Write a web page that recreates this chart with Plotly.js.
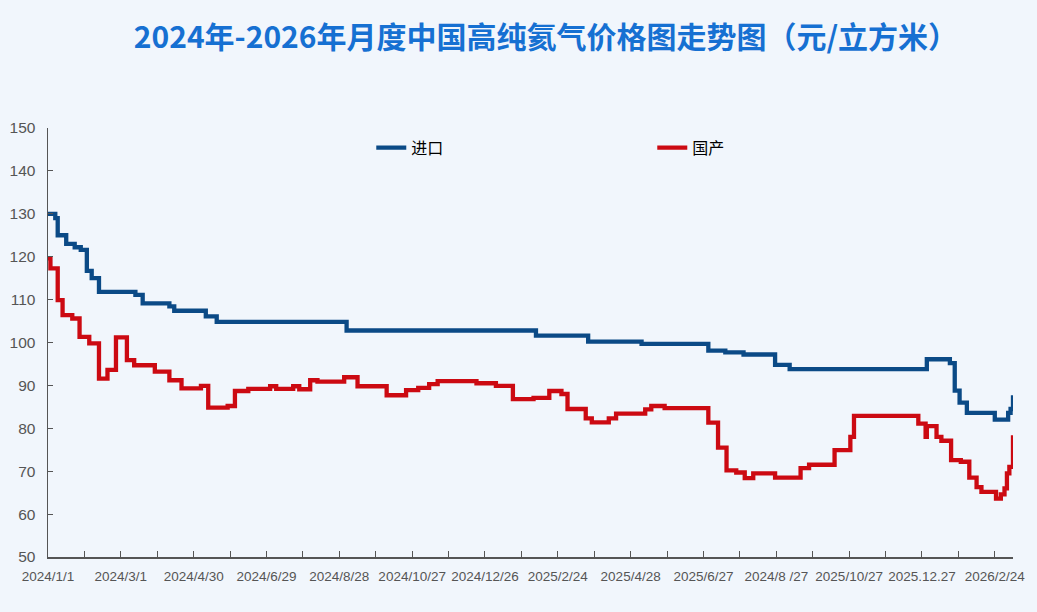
<!DOCTYPE html>
<html>
<head>
<meta charset="utf-8">
<script src="https://cdn.plot.ly/plotly-3.0.1.min.js"></script>
<style>
  html, body { margin: 0; padding: 0; background: #f1f6fc; }
  #chart { width: 1037px; height: 612px; }
</style>
</head>
<body>
<div id="chart"></div>
<script>
// Day index from 2024/1/1 at which each price level starts (step series)
const importDays = [0, 6, 8, 15, 22, 27, 32, 36, 42, 72, 78, 100, 104, 130, 139, 246, 402, 445, 489, 544, 558, 573, 599, 611, 724, 743, 747, 751, 757, 780, 791, 793, 795];
const importValues = [130, 129, 125, 123, 122.2, 121.6, 116.7, 115, 111.8, 111.1, 109.1, 108.4, 107.4, 106.1, 104.8, 102.8, 101.6, 100.2, 99.7, 98.1, 97.7, 97.2, 94.8, 93.8, 96.1, 95.2, 88.8, 86, 83.6, 82, 83.6, 84.5, 87.7];

const domesticDays = [0, 2, 8, 12, 20, 26, 34, 42, 49, 56, 65, 71, 88, 100, 110, 126, 132, 148, 154, 165, 183, 188, 202, 207, 216, 222, 244, 255, 279, 295, 305, 314, 321, 353, 369, 383, 400, 413, 423, 428, 443, 448, 462, 468, 492, 497, 508, 544, 552, 559, 567, 574, 581, 599, 620, 627, 648, 661, 664, 717, 723, 724, 732, 736, 744, 752, 759, 765, 769, 781, 785, 788, 790, 792, 795];
const domesticValues = [119.6, 117.3, 109.9, 106.4, 105.6, 101.3, 99.8, 91.6, 93.6, 101.2, 95.9, 94.7, 93.2, 91.2, 89.3, 89.9, 84.8, 85.2, 88.7, 89.2, 89.8, 89.2, 89.8, 89.1, 91.2, 90.9, 91.9, 89.8, 87.7, 88.9, 89.4, 90.3, 91.0, 90.5, 89.9, 86.8, 87.1, 88.7, 88.0, 84.5, 82.3, 81.4, 82.3, 83.4, 84.4, 85.2, 84.7, 81.3, 75.5, 70.2, 69.7, 68.4, 69.5, 68.5, 70.7, 71.5, 74.9, 78, 82.9, 81.1, 78, 80.5, 78, 77.1, 72.6, 72.2, 68.5, 66.3, 65.2, 63.6, 64.6, 66, 69.5, 71, 78.4];

const tickDays = [0, 30, 60, 90, 120, 150, 180, 210, 240, 270, 300, 330, 360, 390, 420, 450, 480, 510, 540, 570, 600, 630, 660, 690, 720, 750, 780];
const tickLabels = ["2024/1/1", "", "2024/3/1", "", "2024/4/30", "", "2024/6/29", "", "2024/8/28", "", "2024/10/27", "", "2024/12/26", "", "2025/2/24", "", "2025/4/28", "", "2025/6/27", "", "2024/8 /27", "", "2025/10/27", "", "2025.12.27", "", "2026/2/24"];

const seriesNames = ["进口", "国产"];
const seriesColors = ["#0b4a86", "#cc0a12"];

const xFont = { family: "'Liberation Sans', Arial, sans-serif", size: 13.5, color: "#555555" };
const yFont = { family: "'Liberation Sans', Arial, sans-serif", size: 15.5, color: "#555555" };

const traces = [
  { x: importDays, y: importValues, name: seriesNames[0], type: "scatter", mode: "lines",
    line: { color: seriesColors[0], width: 4.3, shape: "hv" } },
  { x: domesticDays, y: domesticValues, name: seriesNames[1], type: "scatter", mode: "lines",
    line: { color: seriesColors[1], width: 4.3, shape: "hv" } }
];

const layout = {
  width: 1037, height: 612,
  paper_bgcolor: "#f1f6fc", plot_bgcolor: "#f1f6fc",
  margin: { l: 48, r: 24, t: 128, b: 55 },
  title: {
    text: "<b>2024年-2026年月度中国高纯氦气价格图走势图（元/立方米）</b>",
    font: { family: "'Noto Sans CJK SC', sans-serif", size: 30, color: "#1670d2" },
    x: 0.516, xref: "paper", xanchor: "center",
    y: 0.938, yref: "container", yanchor: "middle"
  },
  showlegend: true,
  legend: {
    orientation: "h", x: 0.335, xanchor: "left", y: 0.954, yanchor: "middle",
    entrywidth: 236, entrywidthmode: "pixels",
    bgcolor: "rgba(0,0,0,0)",
    font: { family: "'Noto Sans CJK SC', sans-serif", size: 16, color: "#000000" }
  },
  xaxis: {
    range: [0, 795], showgrid: false, zeroline: false, automargin: false,
    showline: true, linecolor: "#555555", linewidth: 1.5,
    ticks: "inside", ticklen: 6, tickcolor: "#555555", tickwidth: 1,
    tickmode: "array", tickvals: tickDays, ticktext: tickLabels,
    tickfont: xFont, tickangle: 0, ticklabelstandoff: 6
  },
  yaxis: {
    range: [50, 150], showgrid: false, zeroline: false, automargin: false,
    showline: true, linecolor: "#555555", linewidth: 1.5,
    ticks: "inside", ticklen: 5, tickcolor: "#555555", tickwidth: 1,
    tickmode: "linear", tick0: 50, dtick: 10,
    tickfont: yFont, ticklabelstandoff: 8
  }
};

Plotly.newPlot("chart", traces, layout, { displayModeBar: false, staticPlot: true });
</script>
</body>
</html>
